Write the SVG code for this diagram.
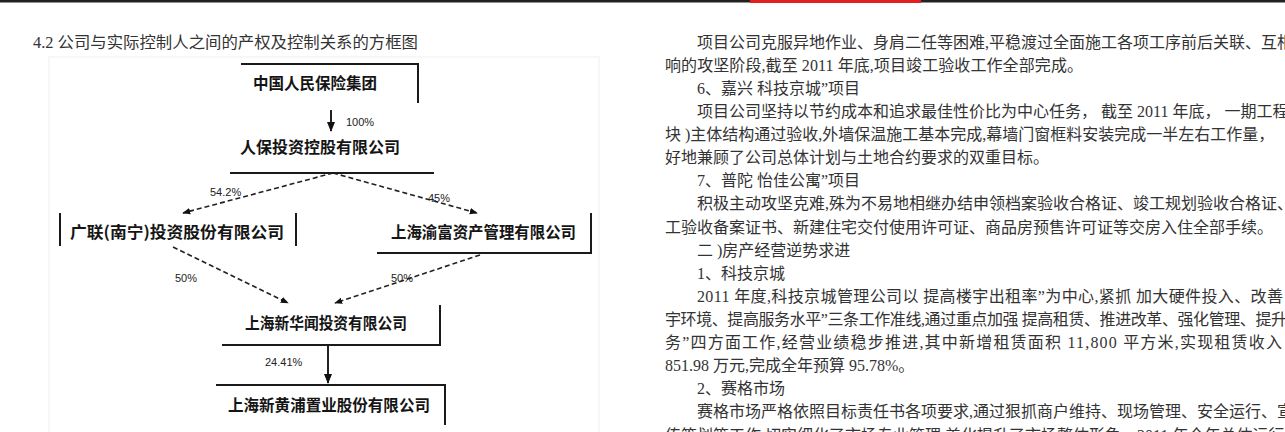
<svg xmlns="http://www.w3.org/2000/svg" width="1285" height="432" viewBox="0 0 1285 432">
<style>
.dt{font-family:"Noto Sans CJK SC","Noto Sans",sans-serif;font-size:16px;font-weight:700;fill:#151515}
.pc{font-family:"Liberation Sans","Noto Sans CJK SC",sans-serif;font-size:11px;fill:#222}
.bx{stroke:#1a1a1a;stroke-width:2;fill:none}
.dash{stroke:#222;stroke-width:1.6;stroke-dasharray:5 3;fill:none}
.solid{stroke:#222;stroke-width:2;fill:none}
.body{font-family:"Liberation Serif","Noto Sans CJK SC",serif;font-size:16px;fill:#333}
</style>
<defs>
<marker id="ah" viewBox="0 0 10 10" refX="9" refY="5" markerWidth="5" markerHeight="5" orient="auto"><path d="M0,1 L10,5 L0,9 z" fill="#111"/></marker>
</defs>
<rect x="0" y="0" width="1285" height="432" fill="#fff"/>
<rect x="0" y="0" width="1285" height="2.5" fill="#222"/>
<rect x="750" y="0" width="171" height="3" fill="#e02020"/>
<text class="body" x="33" y="48" textLength="385" lengthAdjust="spacingAndGlyphs">4.2 公司与实际控制人之间的产权及控制关系的方框图</text>
<rect x="49" y="57" width="550" height="380" fill="none" stroke="#efefef" stroke-width="1"/>
<g id="connectors">
<path class="solid" d="M331,110 L331,131" marker-end="url(#ah)"/>
<path class="dash" d="M333,173 L183,213" marker-end="url(#ah)"/>
<path class="dash" d="M333,173 L477,213" marker-end="url(#ah)"/>
<path class="dash" d="M173,247 L288,303" marker-end="url(#ah)"/>
<path class="dash" d="M480,255 L335,303" marker-end="url(#ah)"/>
<path class="solid" d="M328,345 L328,383" marker-end="url(#ah)"/>
<text class="pc" x="346" y="126">100%</text>
<text class="pc" x="210" y="196">54.2%</text>
<text class="pc" x="428" y="202">45%</text>
<text class="pc" x="175" y="282">50%</text>
<text class="pc" x="391" y="282">50%</text>
<text class="pc" x="265" y="366">24.41%</text>
</g>
<g id="n1">
<path class="bx" d="M241,64 L418,64 L418,103"/>
<text class="dt" x="253" y="89" textLength="124" lengthAdjust="spacingAndGlyphs">中国人民保险集团</text>
</g>
<g id="n2">
<text class="dt" x="240" y="153" textLength="160" lengthAdjust="spacingAndGlyphs">人保投资控股有限公司</text>
<path class="bx" d="M230,173 L434,173"/>
</g>
<g id="n3">
<path class="bx" d="M60,213 L60,246 M296,213 L296,246"/>
<text class="dt" x="70" y="238" textLength="214" lengthAdjust="spacingAndGlyphs">广联(南宁)投资股份有限公司</text>
</g>
<g id="n4">
<path class="bx" d="M591,213 L591,253 L377,253"/>
<text class="dt" x="391" y="238" textLength="185" lengthAdjust="spacingAndGlyphs">上海渝富资产管理有限公司</text>
</g>
<g id="n5">
<path class="bx" d="M440,305 L440,345 L222,345"/>
<text class="dt" x="245" y="329" textLength="162" lengthAdjust="spacingAndGlyphs">上海新华闻投资有限公司</text>
</g>
<g id="n6">
<path class="bx" d="M216,385 L445,385 L445,425"/>
<text class="dt" x="228" y="411" textLength="202" lengthAdjust="spacingAndGlyphs">上海新黄浦置业股份有限公司</text>
</g>
<g id="article">
<text class="body" x="697" y="48">项目公司克服异地作业、身肩二任等困难,平稳渡过全面施工各项工序前后关联、互相</text>
<text class="body" x="665" y="71" textLength="418" lengthAdjust="spacing">响的攻坚阶段,截至 2011 年底,项目竣工验收工作全部完成。</text>
<text class="body" x="697" y="94">6、嘉兴 科技京城”项目</text>
<text class="body" x="697" y="117">项目公司坚持以节约成本和追求最佳性价比为中心任务， 截至 2011 年底， 一期工程</text>
<text class="body" x="665" y="140">块 )主体结构通过验收,外墙保温施工基本完成,幕墙门窗框料安装完成一半左右工作量，</text>
<text class="body" x="665" y="163">好地兼顾了公司总体计划与土地合约要求的双重目标。</text>
<text class="body" x="697" y="186">7、普陀 怡佳公寓”项目</text>
<text class="body" x="697" y="209">积极主动攻坚克难,殊为不易地相继办结申领档案验收合格证、竣工规划验收合格证、</text>
<text class="body" x="665" y="233">工验收备案证书、新建住宅交付使用许可证、商品房预售许可证等交房入住全部手续。</text>
<text class="body" x="697" y="256">二 )房产经营逆势求进</text>
<text class="body" x="697" y="279">1、科技京城</text>
<text class="body" x="697" y="302" textLength="586" lengthAdjust="spacing">2011 年度,科技京城管理公司以 提高楼宇出租率”为中心,紧抓 加大硬件投入、改善</text>
<text class="body" x="665" y="325" textLength="622" lengthAdjust="spacing">宇环境、提高服务水平”三条工作准线,通过重点加强 提高租赁、推进改革、强化管理、提升</text>
<text class="body" x="665" y="348" textLength="617" lengthAdjust="spacing">务”四方面工作,经营业绩稳步推进,其中新增租赁面积 11,800 平方米,实现租赁收入</text>
<text class="body" x="665" y="371">851.98 万元,完成全年预算 95.78%。</text>
<text class="body" x="697" y="394">2、赛格市场</text>
<text class="body" x="697" y="417">赛格市场严格依照目标责任书各项要求,通过狠抓商户维持、现场管理、安全运行、宣</text>
<text class="body" x="665" y="441">传策划等工作,切实细化了市场专业管理,美化提升了市场整体形象。2011 年全年总体运行</text>
</g>
</svg>
